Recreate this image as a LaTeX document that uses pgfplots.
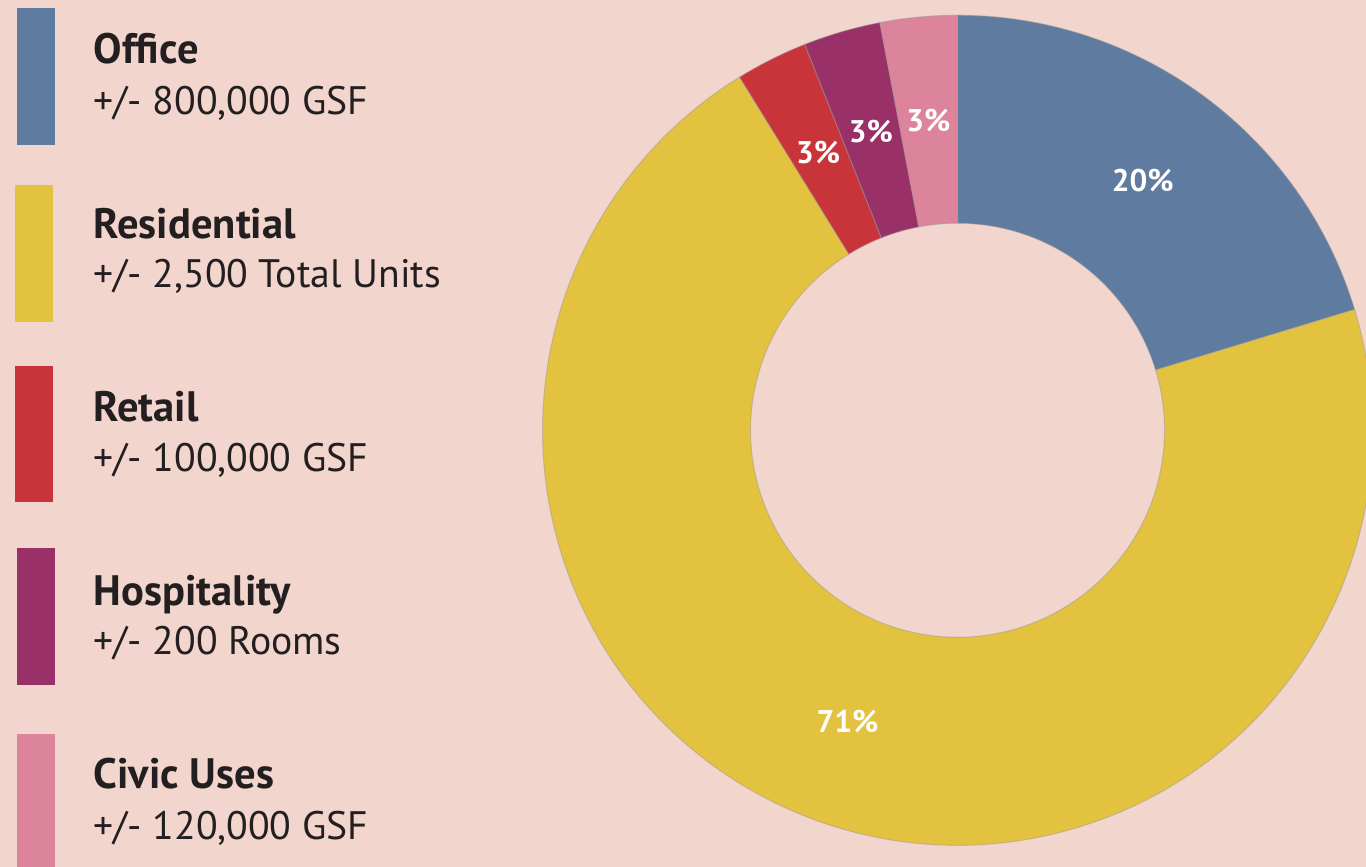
\documentclass[border=0pt]{standalone}
\usepackage{pgfplots}
\pgfplotsset{compat=1.18}
\usepackage{pgfplotstable}
\usepackage{fontspec}
\setmainfont{PT Sans}
\definecolor{bg}{HTML}{F2D5CD}
\definecolor{txt}{HTML}{231F20}
\definecolor{cOffice}{HTML}{5F7BA0}
\definecolor{cRes}{HTML}{E3C240}
\definecolor{cRetail}{HTML}{C9343A}
\definecolor{cHosp}{HTML}{9A3068}
\definecolor{cCivic}{HTML}{DC849C}
\tikzset{pctlabel/.style={text=white,inner sep=0pt,font=\bfseries\fontsize{8.9}{10}\selectfont},
  slice/.style={draw=black!40,draw opacity=0.45,line width=0.3pt},
  legtitle/.style={anchor=base west,inner sep=0pt,text=txt,font=\bfseries\fontsize{12.1}{14}\selectfont},
  legsub/.style={anchor=base west,inner sep=0pt,text=txt,font=\fontsize{11.3}{13}\selectfont}}
\pgfplotstableread{
share label clr
20.3 20 cOffice
70.9 71 cRes
2.8 3 cRetail
3.0 3 cHosp
3.0 3 cCivic
}\slices
\begin{document}
\begin{tikzpicture}[x=0.01cm,y=0.01cm]
\path[use as bounding box] (0,0) rectangle (1366,867);
\clip (0,0) rectangle (1366,867);
\fill[bg] (0,0) rectangle (1366,867);
% legend (pixel rows converted: y = 867 - row)
\fill[cOffice] (17,{867-8}) rectangle (55,{867-145});
\node[legtitle] at (93,{867-64}) {Office};
\node[legsub] at (93,{867-115}) {+/- 800,000 GSF};
\fill[cRes] (15,{867-185}) rectangle (53,{867-322});
\node[legtitle] at (93,{867-239}) {Residential};
\node[legsub] at (93,{867-288}) {+/- 2,500 Total Units};
\fill[cRetail] (15,{867-366}) rectangle (53,{867-502});
\node[legtitle] at (93,{867-422}) {Retail};
\node[legsub] at (93,{867-472}) {+/- 100,000 GSF};
\fill[cHosp] (17,{867-548}) rectangle (55,{867-685});
\node[legtitle] at (93,{867-606}) {Hospitality};
\node[legsub] at (93,{867-655}) {+/- 200 Rooms};
\fill[cCivic] (17,{867-734}) rectangle (55,-5);
\node[legtitle] at (93,{867-789}) {Civic Uses};
\node[legsub] at (93,{867-840}) {+/- 120,000 GSF};
% donut
\begin{axis}[hide axis, x=0.01cm, y=0.01cm, xmin=-415, xmax=415, ymin=-415, ymax=415,
  at={(9.57cm,4.365cm)}, anchor=center, clip=false]
\def\Ro{415}\def\Ri{207}\def\Rm{311}
\gdef\acc{90}
\pgfplotsforeachungrouped \i in {0,...,4}{%
  \pgfplotstablegetelem{\i}{share}\of\slices \let\sh=\pgfplotsretval
  \pgfplotstablegetelem{\i}{clr}\of\slices \let\cl=\pgfplotsretval
  \pgfmathsetmacro{\aA}{\acc}%
  \pgfmathsetmacro{\aB}{\acc-3.6*\sh}%
  \pgfmathsetmacro{\xA}{\Ro*cos(\aA)}%
  \pgfmathsetmacro{\yA}{\Ro*sin(\aA)}%
  \pgfmathsetmacro{\xB}{\Ri*cos(\aB)}%
  \pgfmathsetmacro{\yB}{\Ri*sin(\aB)}%
  \edef\doslice{\noexpand\fill[\cl,slice] (axis cs:\xA,\yA) arc[start angle=\aA, end angle=\aB, radius=\Ro*0.01cm] -- (axis cs:\xB,\yB) arc[start angle=\aB, end angle=\aA, radius=\Ri*0.01cm] -- cycle;}%
  \doslice
  \global\let\acc=\aB
}
\gdef\acc{90}
\pgfplotsforeachungrouped \i in {0,...,4}{%
  \pgfplotstablegetelem{\i}{share}\of\slices \let\sh=\pgfplotsretval
  \pgfplotstablegetelem{\i}{label}\of\slices \let\lb=\pgfplotsretval
  \pgfmathsetmacro{\aA}{\acc}%
  \pgfmathsetmacro{\aB}{\acc-3.6*\sh}%
  \pgfmathsetmacro{\aM}{(\aA+\aB)/2}%
  \pgfmathsetmacro{\xM}{\Rm*cos(\aM)}%
  \pgfmathsetmacro{\yM}{\Rm*sin(\aM)}%
  \edef\dolabel{\noexpand\node[pctlabel] at (axis cs:\xM,\yM) {\lb\noexpand\%};}%
  \dolabel
  \global\let\acc=\aB
}
\end{axis}
\end{tikzpicture}
\end{document}
